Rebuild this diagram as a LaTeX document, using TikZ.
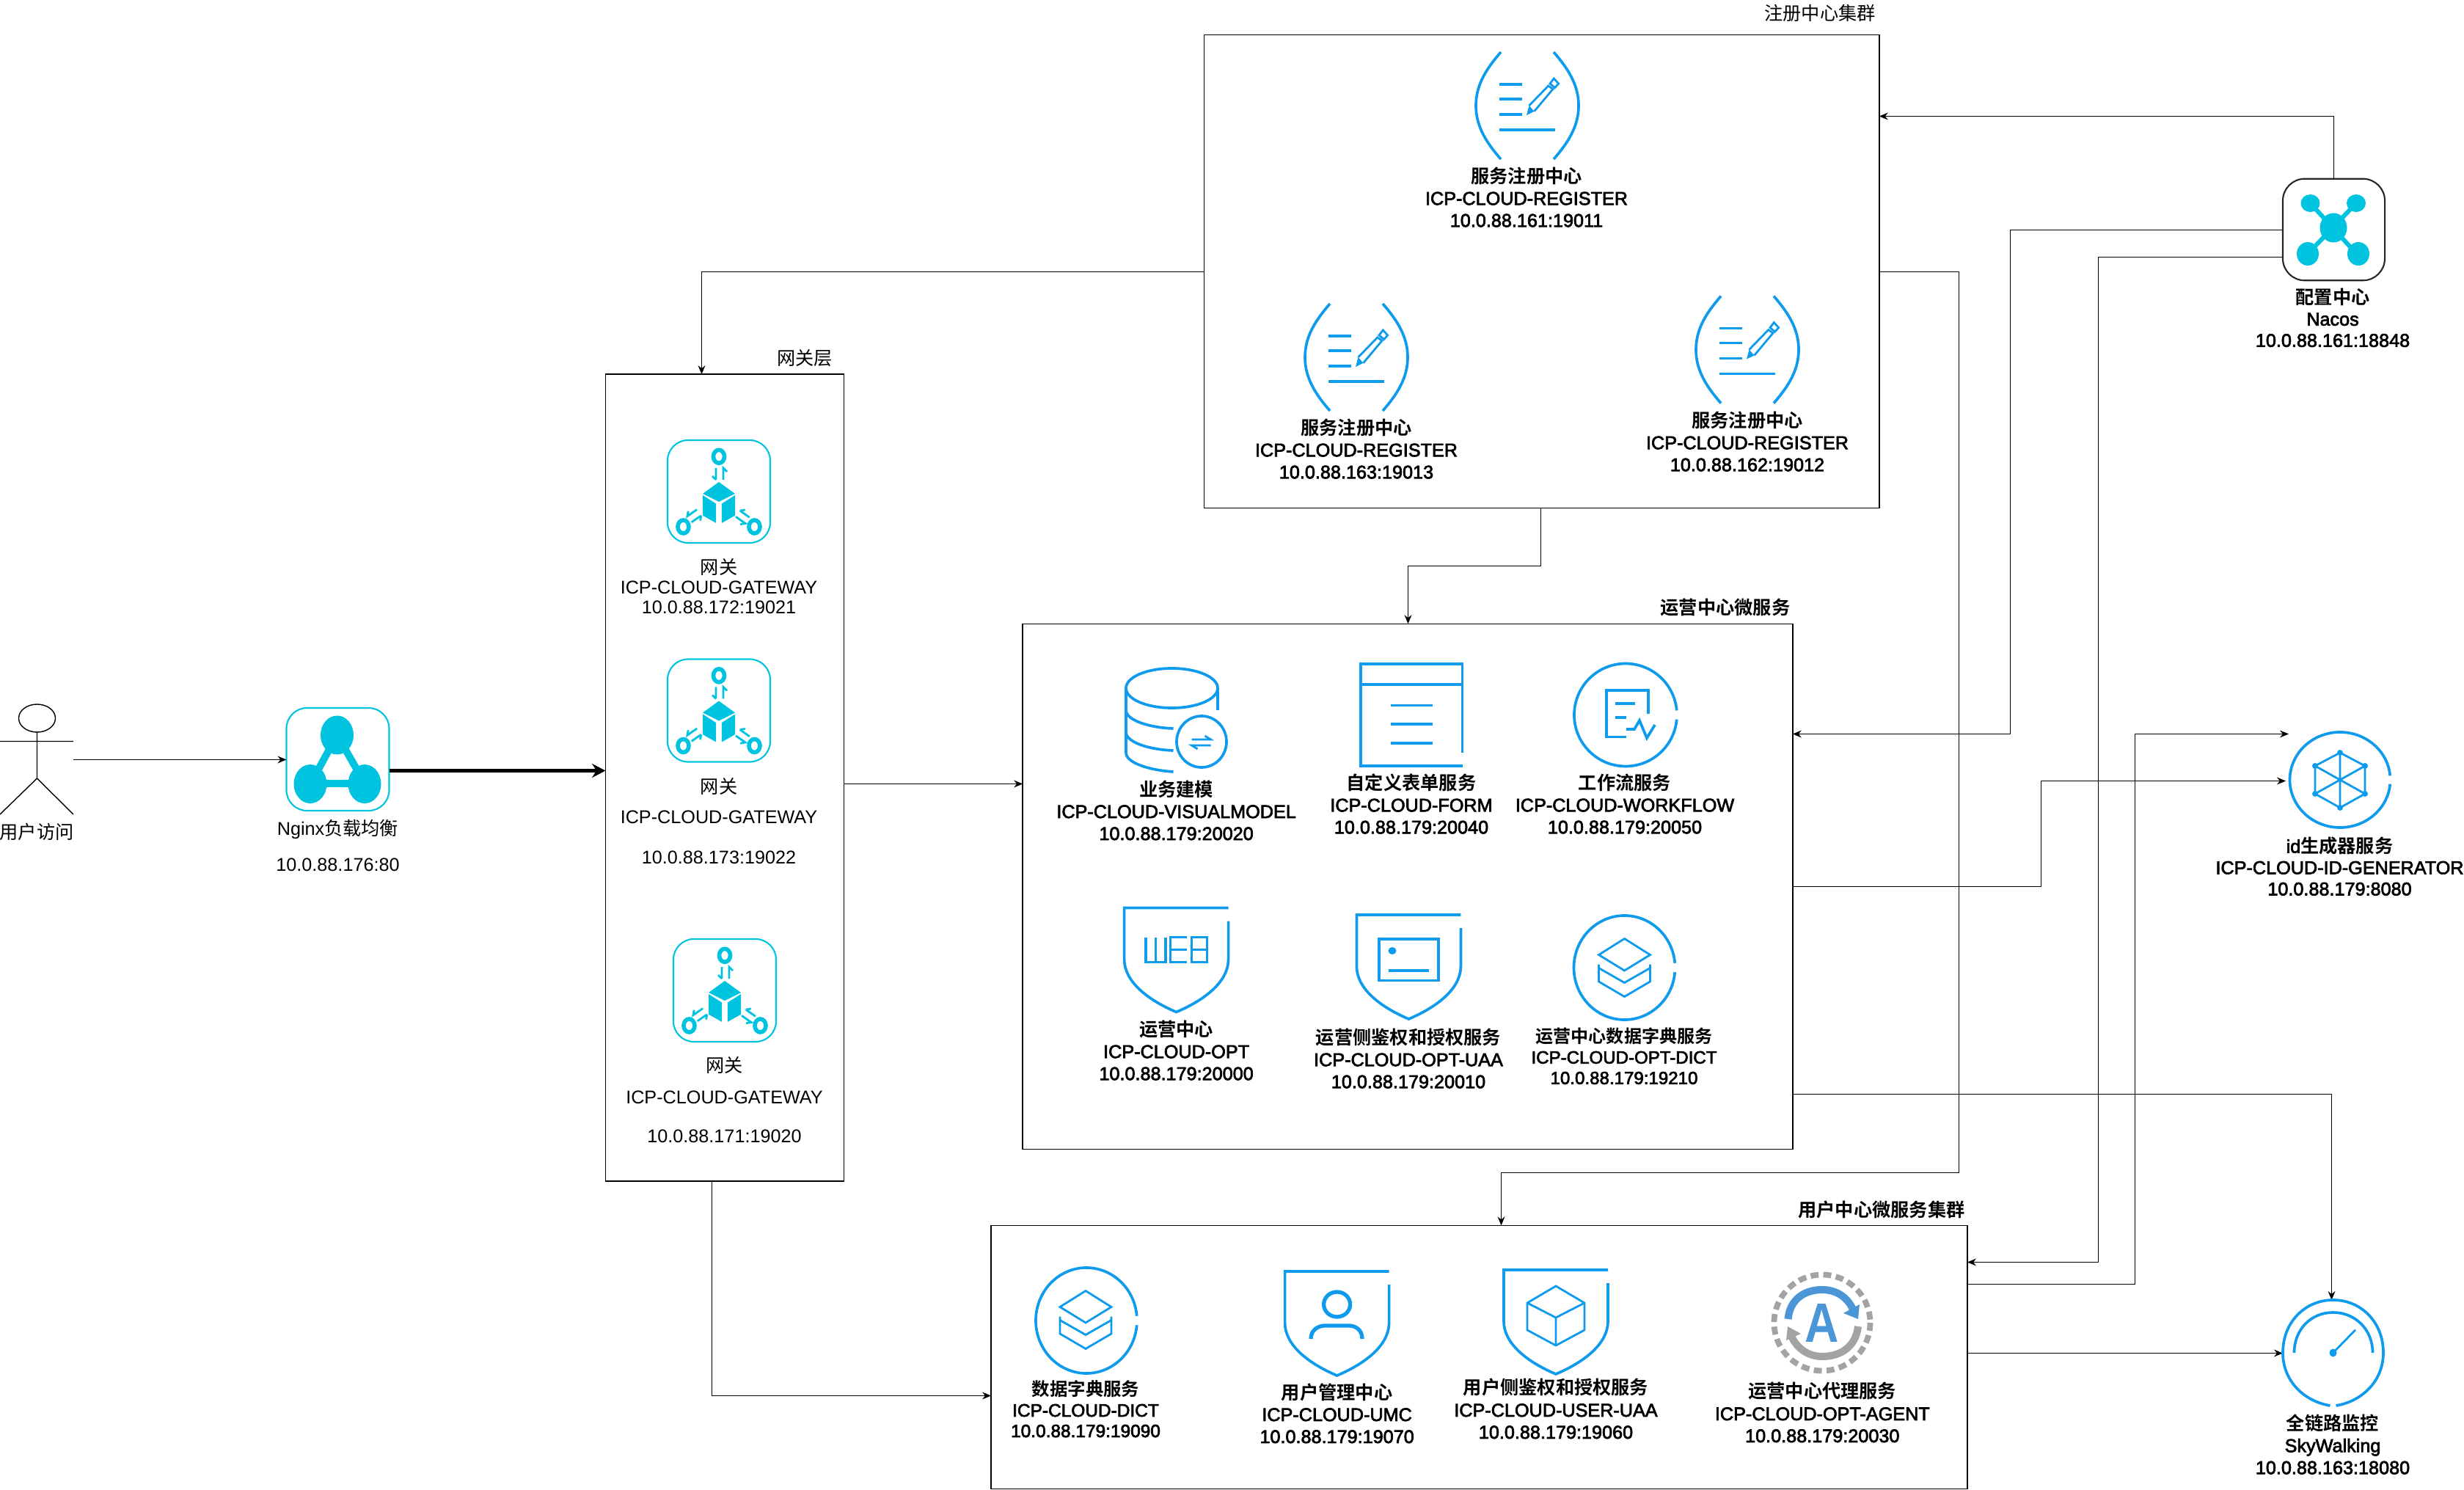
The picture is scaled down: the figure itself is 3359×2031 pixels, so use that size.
\documentclass[tikz,border=0pt]{standalone}
\usepackage{fontspec}
\usepackage{graphicx}
\usetikzlibrary{arrows.meta}
\setmainfont{Liberation Sans}
\newfontfamily\czfont{Noto Sans CJK SC}
\newfontfamily\czbfont{Noto Sans CJK SC Bold}
\newcommand\cz[1]{{\czfont #1}}
\newcommand\czb[1]{{\czbfont #1}}
\newcommand\lb[1]{\special{pdf:code q 2 Tr 0.2 w}#1\special{pdf:code Q}}
\definecolor{icblue}{HTML}{0E9BEE}
\definecolor{iccyan}{HTML}{00C3E0}
\definecolor{agblue}{HTML}{4A96D6}
\definecolor{aggrey}{HTML}{A3A3A3}
\tikzset{
  frame/.style={draw=black,line width=0.42pt,fill=none,inner sep=0pt,outer sep=0pt},
  conn/.style={draw=black,line width=0.42pt,-{Stealth[length=3.4pt,width=2.8pt]}},
  thickconn/.style={draw=black,line width=1.4pt,-{Stealth[length=5.2pt,width=5.4pt]}},
  ic/.style={draw=icblue,line width=1.05pt,fill=none,line join=miter},
  icthin/.style={draw=icblue,line width=0.8pt,fill=none},
  lab/.style={align=center,inner sep=0pt,outer sep=0pt,yshift=-0.85pt},
  cyanbox/.style={draw=iccyan,line width=0.6pt,rounded corners=8pt,inner sep=0pt,outer sep=0pt,minimum width=1.4cm,minimum height=1.4cm}
}
% service label: [line spacing]{name}{x}{y of middle line}{line 1}{line 2}{line 3}
\newcommand\svc[7][8.53]{\node[lab,font=\fontsize{7.17}{#1}\selectfont] (#2) at (#3,#4) {\strut\czb{#5}\\\strut\lb{#6}\\\strut\lb{#7}};}
\newcommand\svcsmall[7][6.9]{\node[lab,font=\fontsize{#1}{7.97}\selectfont] (#2) at (#3,#4) {\strut\czb{#5}\\\strut\lb{#6}\\\strut\lb{#7}};}
\newcommand\thintitle[4]{\node[lab,font=\fontsize{7.17}{8.53}\selectfont] (#1) at (#2,#3) {\strut\cz{#4}};}
\newcommand\boldtitle[4]{\node[lab,font=\fontsize{7.17}{8.53}\selectfont] (#1) at (#2,#3) {\strut\czb{#4}};}
% register icon
\newcommand\regicon[2]{\begin{scope}[shift={(#1,#2)}]
 \draw[ic] (-36,-73) .. controls (-56,-50) and (-70,-28) .. (-70,0) .. controls (-70,28) and (-56,50) .. (-36,73);
 \draw[ic] (36,-73) .. controls (56,-50) and (70,-28) .. (70,0) .. controls (70,28) and (56,50) .. (36,73);
 \draw[ic] (-38,-29)--(-7,-29) (-38,-9)--(-7,-9) (-38,12)--(-7,12) (-38,33)--(38,33);
 \draw[icthin] (2.5,0)--(28.7,-27)--(35,-22.6)--(9.5,7.8);
 \fill[icblue] (2.5,0)--(9.5,7.8)--(-1,13)--cycle;
 \draw[icthin] (36.3,-37)--(42.7,-30)--(37.6,-24.4)--(31,-30)--cycle;
\end{scope}}
% gateway icon
\newcommand\gwarrows{\draw[draw=iccyan,line width=0.8pt] (-4,-8)--(-4,8) (-9,3)--(-4,8) (6,8)--(6,-8)--(11,-3);}
\newcommand\gwicon[3]{
 \node[cyanbox] (#1) at (#2,#3) {};
 \begin{scope}[shift={(#2,#3)}]
  \draw[iccyan,line width=1.6pt] (0,-47.7) circle[x radius=7.5,y radius=9];
  \draw[iccyan,line width=1.6pt] (-48.5,48) circle[x radius=7.5,y radius=9];
  \draw[iccyan,line width=1.6pt] (48.5,48) circle[x radius=7.5,y radius=9];
  \fill[iccyan] (0,-13)--(22,3)--(0,14)--(-22,3)--cycle;
  \fill[iccyan] (-22,5)--(-3.8,16.6)--(-3.8,43)--(-22,32.7)--cycle;
  \fill[iccyan] (22,5)--(3.8,16.6)--(3.8,43)--(22,32.7)--cycle;
  \begin{scope}[shift={(0,-24)}]\gwarrows\end{scope}
  \begin{scope}[shift={(-33,34)},rotate=125]\gwarrows\end{scope}
  \begin{scope}[shift={(33,34)},rotate=-125]\gwarrows\end{scope}
 \end{scope}}
% ellipse with a small gap on the right
\newcommand\gapcirc[4]{\draw[ic] (#1,#2) ++(5:#3 and #4) arc[start angle=5,end angle=355,x radius=#3,y radius=#4];}
% shield
\newcommand\shield[2]{\begin{scope}[shift={(#1,#2)}]
 \draw[ic] (71,18)--(71,70) .. controls (71,100) and (40,125) .. (0,142) .. controls (-40,125) and (-71,100) .. (-71,70)--(-71,0)--(71,0);
\end{scope}}
% layers icon
\newcommand\layersicon[2]{\begin{scope}[shift={(#1,#2)}]
 \draw[icthin] (0,-40)--(35,-18)--(0,3.5)--(-35,-18)--cycle;
 \draw[icthin] (-35,-5)--(-35,18.5)--(0,39)--(35,18.5)--(35,-5);
 \draw[icthin] (-35,0)--(0,20)--(35,0);
\end{scope}}
\begin{document}
\begin{tikzpicture}[x=0.01cm,y=-0.01cm]
\useasboundingbox (0,0) rectangle (3359,2031);
% containers
\node[frame,minimum width=9.2cm,minimum height=6.45cm] (reg) at (2101.5,370) {};
\node[frame,minimum width=3.25cm,minimum height=10.99cm] (gw) at (988,1060) {};
\node[frame,minimum width=10.49cm,minimum height=7.16cm] (opt) at (1919,1208.5) {};
\node[frame,minimum width=13.3cm,minimum height=3.59cm] (usr) at (2016.5,1850) {};
% cyan / black framed icons that carry connectors
\node[cyanbox] (nginx) at (460.5,1035) {};
\node[draw=black!85,line width=0.6pt,rounded corners=8.5pt,inner sep=0pt,outer sep=0pt,minimum width=1.39cm,minimum height=1.385cm] (nacos) at (3181.5,313) {};
% connector end points
\coordinate (actorhand) at (100,1035.5);
\coordinate (yNacosReg) at (0,158.5);
\coordinate (yNacosOpt) at (0,1000.5);
\coordinate (xNacosOpt) at (2740.5,0);
\coordinate (yNacosUsr) at (0,1720.5);
\coordinate (yNacosLow) at (0,350.5);
\coordinate (xNacosUsr) at (2860.5,0);
\coordinate (yNacosMid) at (0,313.5);
\coordinate (yRegSide) at (0,370.5);
\coordinate (xRegRight) at (2670.5,0);
\coordinate (yRegUsr) at (0,1598.5);
\coordinate (xUsrIn) at (2046.5,0);
\coordinate (xGwIn) at (956.5,0);
\coordinate (xRegOut) at (2100.5,0);
\coordinate (yRegOpt) at (0,771.5);
\coordinate (xOptIn) at (1919.5,0);
\coordinate (yGwOpt) at (0,1068.5);
\coordinate (xGwOut) at (970.5,0);
\coordinate (yGwUsr) at (0,1902.5);
\coordinate (yOptId) at (0,1208.5);
\coordinate (xOptId) at (2782.5,0);
\coordinate (idInA) at (3116,1064.5);
\coordinate (yUsrId) at (0,1750.5);
\coordinate (xUsrId) at (2910.5,0);
\coordinate (idInB) at (3120,1000.5);
\coordinate (skyLeft) at (3112,1844.5);
\coordinate (yOptSky) at (0,1491.5);
\coordinate (skyTop) at (3178.5,1772);
\coordinate (yThick) at (0,1050.5);
% connectors
\draw[conn] (actorhand) -- (nginx.west |- actorhand);
\draw[thickconn] (nginx.east |- yThick) -- (gw.west |- yThick);
\draw[conn] (nacos.north) |- (reg.east |- yNacosReg);
\draw[conn] (nacos.west |- yNacosMid) -- (xNacosOpt |- yNacosMid) -- (xNacosOpt |- yNacosOpt) -- (opt.east |- yNacosOpt);
\draw[conn] (nacos.west |- yNacosLow) -- (xNacosUsr |- yNacosLow) -- (xNacosUsr |- yNacosUsr) -- (usr.east |- yNacosUsr);
\draw[conn] (reg.east |- yRegSide) -- (xRegRight |- yRegSide) -- (xRegRight |- yRegUsr) -- (xUsrIn |- yRegUsr) -- (xUsrIn |- usr.north);
\draw[conn] (reg.west |- yRegSide) -- (xGwIn |- yRegSide) -- (xGwIn |- gw.north);
\draw[conn] (xRegOut |- reg.south) -- (xRegOut |- yRegOpt) -- (xOptIn |- yRegOpt) -- (xOptIn |- opt.north);
\draw[conn] (gw.east |- yGwOpt) -- (opt.west |- yGwOpt);
\draw[conn] (xGwOut |- gw.south) -- (xGwOut |- yGwUsr) -- (usr.west |- yGwUsr);
\draw[conn] (opt.east |- yOptId) -- (xOptId |- yOptId) -- (xOptId |- idInA) -- (idInA);
\draw[conn] (usr.east |- yUsrId) -- (xUsrId |- yUsrId) -- (xUsrId |- idInB) -- (idInB);
\draw[conn] (usr.east |- skyLeft) -- (skyLeft);
\draw[conn] (opt.east |- yOptSky) -- (skyTop |- yOptSky) -- (skyTop);
% titles
\thintitle{tReg}{2481}{18}{注册中心集群}
\thintitle{tGw}{1097}{488}{网关层}
\boldtitle{tOpt}{2352}{828}{运营中心微服务}
\boldtitle{tUsr}{2565}{1649}{用户中心微服务集群}
% actor
\draw[line width=0.4pt] (50.5,979) circle[x radius=25,y radius=19];
\draw[line width=0.4pt] (50.5,998)--(50.5,1061) (0,1010.5)--(100,1010.5) (0,1110)--(50.5,1061)--(100,1110);
\thintitle{tActor}{50}{1134}{用户访问}
% nginx icon
\begin{scope}[shift={(460.5,1035)}]
 \draw[iccyan,line width=2.8pt] (-1,-33)--(-37,33)--(37,33)--cycle;
 \fill[iccyan] (-1,-33) circle[x radius=22.5,y radius=26.5];
 \fill[iccyan] (-37.5,33.6) circle[x radius=22.5,y radius=26.5];
 \fill[iccyan] (36.5,33.6) circle[x radius=22.5,y radius=26.5];
\end{scope}
\node[lab,font=\fontsize{7.17}{8.53}\selectfont] (tNginx) at (460.5,1153.5) {\strut Nginx\cz{负载均衡}\\[5.4pt]\strut 10.0.88.176:80};
% gateways
\gwicon{gwA}{980}{670}
\gwicon{gwB}{980}{968.5}
\gwicon{gwC}{988}{1350}
\node[lab,font=\fontsize{7.17}{7.68}\selectfont] (tGwA) at (980,800.5) {\strut\cz{网关}\\\strut ICP-CLOUD-GATEWAY\\\strut 10.0.88.172:19021};
\node[lab,font=\fontsize{7.17}{8.53}\selectfont] (tGwB) at (980,1120.5) {\strut\cz{网关}\\[3.3pt]\strut ICP-CLOUD-GATEWAY\\[7.2pt]\strut 10.0.88.173:19022};
\node[lab,font=\fontsize{7.17}{8.53}\selectfont] (tGwC) at (987.5,1500.5) {\strut\cz{网关}\\[3.7pt]\strut ICP-CLOUD-GATEWAY\\[6.8pt]\strut 10.0.88.171:19020};
% register
\regicon{2082}{144}
\regicon{1849}{487}
\regicon{2382}{476.6}
\svc{sRegA}{2081}{270}{服务注册中心}{ICP-CLOUD-REGISTER}{10.0.88.161:19011}
\svc{sRegB}{1849}{613}{服务注册中心}{ICP-CLOUD-REGISTER}{10.0.88.163:19013}
\svc{sRegC}{2382}{603}{服务注册中心}{ICP-CLOUD-REGISTER}{10.0.88.162:19012}
% database icon
\begin{scope}[shift={(1597.5,938)}]
 \draw[ic] (0,0) circle[x radius=62.5,y radius=27];
 \draw[ic] (-62.5,0)--(-62.5,88) .. controls (-62.5,102) and (-30,112) .. (2,114);
 \draw[ic] (62.5,0)--(62.5,30);
 \draw[ic] (-62.5,30) .. controls (-62.5,44) and (-30,54) .. (2,55);
 \draw[ic] (-62.5,60) .. controls (-62.5,74) and (-30,84) .. (2,85);
 \draw[ic] (40.5,73) circle[x radius=34,y radius=35];
 \draw[draw=icblue,line width=0.8pt] (27,70)--(53,70)--(45,65) (53,78)--(27,78)--(35,83);
\end{scope}
\svc{sVis}{1603.6}{1105.8}{业务建模}{ICP-CLOUD-VISUALMODEL}{10.0.88.179:20020}
% form icon
\begin{scope}[shift={(1855,905)}]
 \draw[ic] (138.5,121)--(138.5,0)--(0,0)--(0,139)--(138.5,139);
 \draw[ic] (0,28)--(138.5,28);
 \draw[ic] (41,56.6)--(98,56.6) (41,82)--(98,82) (41,108)--(98,108);
\end{scope}
\svc{sForm}{1924}{1097}{自定义表单服务}{ICP-CLOUD-FORM}{10.0.88.179:20040}
% workflow icon
\gapcirc{2216}{974.5}{70}{70}
\draw[ic] (2247,973)--(2247,941)--(2190,941)--(2190,1004.5)--(2217,1004.5);
\draw[ic] (2202,959)--(2229,959) (2202,977.7)--(2217,977.7);
\draw[ic] (2217,994)--(2228,994)--(2235,982)--(2245,1006)--(2256,988);
\svc{sFlow}{2215}{1097}{工作流服务}{ICP-CLOUD-WORKFLOW}{10.0.88.179:20050}
% web icon
\shield{1603.6}{1237.5}
\begin{scope}[shift={(1562,1277.7)}]
 \draw[draw=icblue,line width=0.9pt] (0,0)--(0,34)--(27,34)--(27,0) (13.5,0)--(13.5,34);
 \draw[draw=icblue,line width=0.9pt] (55.7,0)--(33.6,0)--(33.6,34)--(55.7,34) (33.6,17)--(55.7,17);
 \draw[draw=icblue,line width=0.9pt] (62.4,0)--(83.8,0)--(83.8,34)--(62.4,34)--cycle (62.4,17)--(83.8,17);
\end{scope}
\svc{sOpt}{1603.6}{1433}{运营中心}{ICP-CLOUD-OPT}{10.0.88.179:20000}
% opt uaa icon
\shield{1920.4}{1247}
\draw[ic] (1880,1280) rectangle (1961,1336.6);
\fill[icblue] (1898,1296) circle[x radius=5.5,y radius=5];
\draw[ic] (1893,1323)--(1948,1323);
\svc{sOptUaa}{1920}{1444}{运营侧鉴权和授权服务}{ICP-CLOUD-OPT-UAA}{10.0.88.179:20010}
% opt dict icon
\gapcirc{2214.5}{1319}{69}{71}
\layersicon{2214.5}{1319.5}
\svcsmall[6.85]{sOptDict}{2214}{1440.6}{运营中心数据字典服务}{ICP-CLOUD-OPT-DICT}{10.0.88.179:19210}
% user: dict
\gapcirc{1481}{1800}{69}{72}
\layersicon{1480}{1799.5}
\svcsmall[6.95]{sDict}{1480}{1921.7}{数据字典服务}{ICP-CLOUD-DICT}{10.0.88.179:19090}
% user: umc
\shield{1822.6}{1733}
\draw[draw=icblue,line width=1.5pt] (1822.6,1778) circle[x radius=18,y radius=17];
\draw[draw=icblue,line width=1.5pt] (1787,1825) .. controls (1787,1812) and (1798,1807) .. (1806,1807)--(1839,1807) .. controls (1847,1807) and (1857,1812) .. (1857,1825);
\svc{sUmc}{1822.6}{1927.7}{用户管理中心}{ICP-CLOUD-UMC}{10.0.88.179:19070}
% user: uaa
\shield{2121}{1731}
\draw[icthin] (2121,1753)--(2160,1776)--(2160,1813)--(2121,1834)--(2082,1813)--(2082,1776)--cycle;
\draw[icthin] (2082,1776)--(2121,1796)--(2160,1776) (2121,1796)--(2121,1834);
\svc{sUaa}{2121}{1921.7}{用户侧鉴权和授权服务}{ICP-CLOUD-USER-UAA}{10.0.88.179:19060}
% agent icon
\begin{scope}[shift={(2484,1803)}]
 \draw[draw=aggrey,line width=2.2pt,dash pattern=on 3.1pt off 1.8pt] (0,0) circle[radius=65.5];
 \draw[draw=agblue,line width=2.85pt] (-46.5,-5) .. controls (-44,-32) and (-24,-45) .. (0,-45) .. controls (20,-45) and (35,-34) .. (42,-18);
 \fill[agblue] (49,-5)--(51,-25)--(29,-13)--cycle;
 \draw[draw=aggrey,line width=2.85pt] (49,5) .. controls (46,32) and (26,46) .. (0,46) .. controls (-20,46) and (-35,34) .. (-42,18);
 \fill[aggrey] (-47,5)--(-49,24)--(-29,15)--cycle;
 \node[text=agblue,inner sep=0pt,outer sep=0pt,font=\fontsize{21.5}{24}\selectfont\bfseries] (agentA) at (0,0.5) {\scalebox{0.85}[1]{A}};
\end{scope}
\svc{sAgent}{2484.3}{1926.7}{运营中心代理服务}{ICP-CLOUD-OPT-AGENT}{10.0.88.179:20030}
% nacos icon
\begin{scope}[shift={(3181,310.5)}]
 \draw[iccyan,line width=1.7pt] (-31.5,-33.5)--(31.5,35.5) (31,-33.5)--(-35,35.5);
 \fill[iccyan] (0,0) circle[x radius=18.5,y radius=20];
 \fill[iccyan] (-31.5,-33.5) circle[x radius=13,y radius=12];
 \fill[iccyan] (31,-33.5) circle[x radius=13,y radius=12];
 \fill[iccyan] (-35,35.5) circle[x radius=15,y radius=16];
 \fill[iccyan] (34,35.5) circle[x radius=15,y radius=16];
\end{scope}
\node[lab,font=\fontsize{7.17}{8.25}\selectfont] (sNacos) at (3180,434.4) {\strut\czb{配置中心}\\\strut\lb{Nacos}\\\strut\lb{10.0.88.161:18848}};
% id icon
\gapcirc{3190}{1063}{68.5}{65}
\begin{scope}[shift={(3190,1063)}]
 \draw[icthin] (0,-37)--(34,-19)--(34,19)--(0,38)--(-34,19)--(-34,-19)--cycle;
 \draw[icthin] (0,-37)--(0,38) (-34,-19)--(34,19) (34,-19)--(-34,19);
 \foreach \px/\py in {0/-37,34/-19,34/19,0/38,-34/19,-34/-19}{\fill[icblue] (\px,\py) circle[radius=4];}
\end{scope}
\node[lab,font=\fontsize{7.17}{8.25}\selectfont] (sId) at (3189.5,1182) {\strut\lb{id}\czb{生成器服务}\\\strut\lb{ICP-CLOUD-ID-GENERATOR}\\\strut\lb{10.0.88.179:8080}};
% sky icon
\begin{scope}[shift={(3180.5,1844)}]
 \draw[ic] (-4,72) .. controls (-40,66) and (-68.5,38) .. (-68.5,0) .. controls (-68.5,-42) and (-38,-72) .. (0,-72) .. controls (38,-72) and (68.5,-42) .. (68.5,0) .. controls (68.5,38) and (40,66) .. (4,72);
 \draw[ic] (-53,0) .. controls (-53,-32) and (-30,-55) .. (0,-55) .. controls (30,-55) and (54,-32) .. (54,0);
 \draw[icthin] (0,0)--(30.5,-31.3);
 \fill[icblue] (0,0) circle[x radius=5,y radius=5.5];
\end{scope}
\node[lab,font=\fontsize{7.17}{8.53}\selectfont] (sSky) at (3180,1970) {\strut\czb{全链路监控}\\\strut\lb{SkyWalking}\\\strut\lb{10.0.88.163:18080}};
\end{tikzpicture}
\end{document}
